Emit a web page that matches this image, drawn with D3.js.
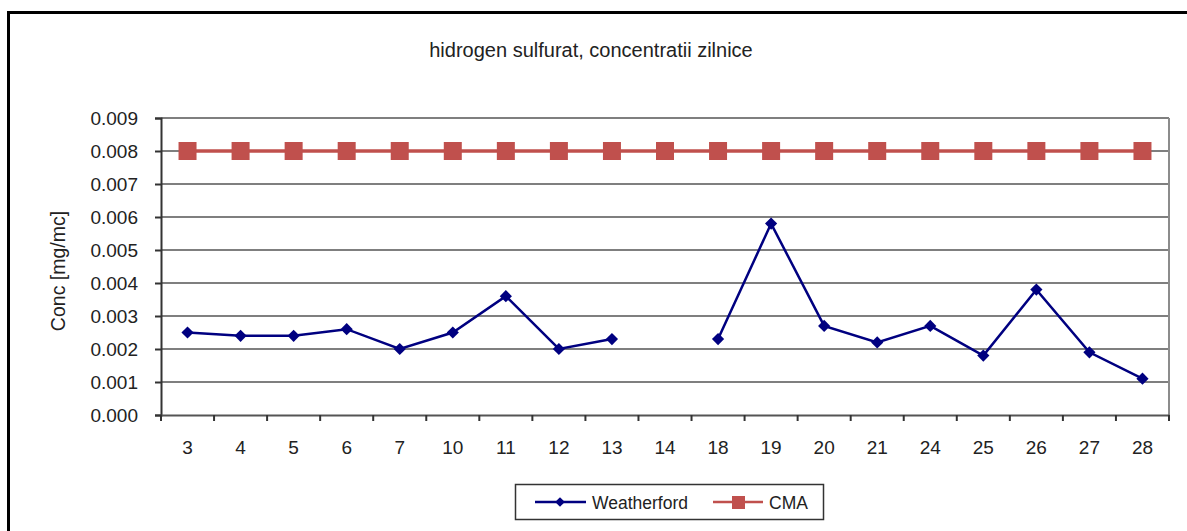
<!DOCTYPE html>
<html>
<head>
<meta charset="utf-8">
<script src="https://cdn.jsdelivr.net/npm/d3@7"></script>
<style>
  body { margin: 0; background: #fff; }
  svg text { font-family: "Liberation Sans", Arial, sans-serif; fill: #222; }
</style>
</head>
<body>
<div id="chart"></div>
<script>
// hidrogen sulfurat - concentratii zilnice

var days = ["3", "4", "5", "6", "7", "10", "11", "12", "13", "14", "18", "19", "20", "21", "24", "25", "26", "27", "28"];
var weatherford = [0.0025, 0.0024, 0.0024, 0.0026, 0.0020, 0.0025, 0.0036, 0.0020, 0.0023, null,
                   0.0023, 0.0058, 0.0027, 0.0022, 0.0027, 0.0018, 0.0038, 0.0019, 0.0011];
var cma = [0.008, 0.008, 0.008, 0.008, 0.008, 0.008, 0.008, 0.008, 0.008, 0.008,
           0.008, 0.008, 0.008, 0.008, 0.008, 0.008, 0.008, 0.008, 0.008];
var yTicks = [0, 0.001, 0.002, 0.003, 0.004, 0.005, 0.006, 0.007, 0.008, 0.009];

var W = 1187, H = 531;
var plot = {left: 161, right: 1169, top: 118, bottom: 415};

var svg = d3.select("#chart").append("svg")
    .attr("width", W)
    .attr("height", H);

// outer frame
svg.append("path")
    .attr("d", "M8.5," + H + "V12.5H" + W)
    .attr("fill", "none")
    .attr("stroke", "#000")
    .attr("stroke-width", 3);

var x = d3.scaleBand().domain(days).range([plot.left, plot.right]);
var y = d3.scaleLinear().domain([0, 0.009]).range([plot.bottom, plot.top]);

// gridlines
svg.append("g").selectAll("line")
    .data(yTicks.slice(1))
    .join("line")
    .attr("x1", plot.left).attr("x2", plot.right)
    .attr("y1", d => y(d)).attr("y2", d => y(d))
    .attr("stroke", "#7f7f7f")
    .attr("stroke-width", 2);

// right border
svg.append("line")
    .attr("x1", plot.right).attr("x2", plot.right)
    .attr("y1", plot.top).attr("y2", plot.bottom)
    .attr("stroke", "#8c8c8c").attr("stroke-width", 2);

// y axis
var yAxis = svg.append("g")
    .attr("transform", "translate(" + plot.left + ",0)")
    .call(d3.axisLeft(y).tickValues(yTicks).tickFormat(d3.format(".3f")).tickSize(6).tickPadding(17));
yAxis.select(".domain").attr("stroke", "#333").attr("stroke-width", 2);
yAxis.selectAll(".tick line").attr("stroke", "#333").attr("stroke-width", 2);
yAxis.selectAll("text").style("font-size", "19px").attr("fill", "#333");

// x axis
var xAxis = svg.append("g")
    .attr("transform", "translate(0," + plot.bottom + ")")
    .call(d3.axisBottom(x).tickSize(0).tickPadding(26));
xAxis.select(".domain").attr("stroke", "#555").attr("stroke-width", 2);
xAxis.selectAll("text").style("font-size", "19px").attr("fill", "#333");
xAxis.selectAll(".bound")
    .data(days.concat([""]))
    .join("line")
    .attr("class", "bound")
    .attr("x1", (d, i) => plot.left + i * x.step())
    .attr("x2", (d, i) => plot.left + i * x.step())
    .attr("y1", 0).attr("y2", 6)
    .attr("stroke", "#333").attr("stroke-width", 2);

var cx = d => x(d) + x.bandwidth() / 2;

// CMA line
var cmaColor = "#c0504d";
svg.append("path")
    .datum(days.map((d, i) => [d, cma[i]]))
    .attr("fill", "none")
    .attr("stroke", cmaColor)
    .attr("stroke-width", 3.5)
    .attr("d", d3.line().x(d => cx(d[0])).y(d => y(d[1])));
svg.append("g").selectAll("rect")
    .data(days.map((d, i) => [d, cma[i]]))
    .join("rect")
    .attr("x", d => cx(d[0]) - 9)
    .attr("y", d => y(d[1]) - 9)
    .attr("width", 18).attr("height", 18)
    .attr("fill", cmaColor);

// Weatherford line
var wColor = "#000080";
var wData = days.map((d, i) => [d, weatherford[i]]);
svg.append("path")
    .datum(wData)
    .attr("fill", "none")
    .attr("stroke", wColor)
    .attr("stroke-width", 2.5)
    .attr("d", d3.line().defined(d => d[1] !== null).x(d => cx(d[0])).y(d => y(d[1])));
var diamond = d3.symbol().type(d3.symbolDiamond2).size(95);
svg.append("g").selectAll("path")
    .data(wData.filter(d => d[1] !== null))
    .join("path")
    .attr("transform", d => "translate(" + cx(d[0]) + "," + y(d[1]) + ")")
    .attr("d", diamond)
    .attr("fill", wColor);

// title
svg.append("text")
    .attr("x", 591).attr("y", 57)
    .attr("text-anchor", "middle")
    .style("font-size", "20px")
    .text("hidrogen sulfurat, concentratii zilnice");

// y label
svg.append("text")
    .attr("transform", "translate(65,271) rotate(-90)")
    .attr("text-anchor", "middle")
    .style("font-size", "19.5px")
    .attr("fill", "#333")
    .text("Conc [mg/mc]");

// legend
var lg = svg.append("g").attr("transform", "translate(515,484)");
lg.append("rect")
    .attr("x", 0.5).attr("y", 0.5)
    .attr("width", 308).attr("height", 35)
    .attr("fill", "#fff").attr("stroke", "#333").attr("stroke-width", 1.5);
lg.append("line").attr("x1", 20).attr("x2", 71).attr("y1", 18).attr("y2", 18)
    .attr("stroke", wColor).attr("stroke-width", 2.5);
lg.append("path").attr("transform", "translate(45,18)")
    .attr("d", d3.symbol().type(d3.symbolDiamond2).size(60)).attr("fill", wColor);
lg.append("text").attr("x", 77).attr("y", 25).style("font-size", "17.5px").attr("fill", "#333").text("Weatherford");
lg.append("line").attr("x1", 198).attr("x2", 248).attr("y1", 18).attr("y2", 18)
    .attr("stroke", cmaColor).attr("stroke-width", 2.5);
lg.append("rect").attr("x", 217).attr("y", 12).attr("width", 13).attr("height", 13).attr("fill", cmaColor);
lg.append("text").attr("x", 254).attr("y", 25).style("font-size", "17.5px").attr("fill", "#333").text("CMA");
</script>
</body>
</html>
